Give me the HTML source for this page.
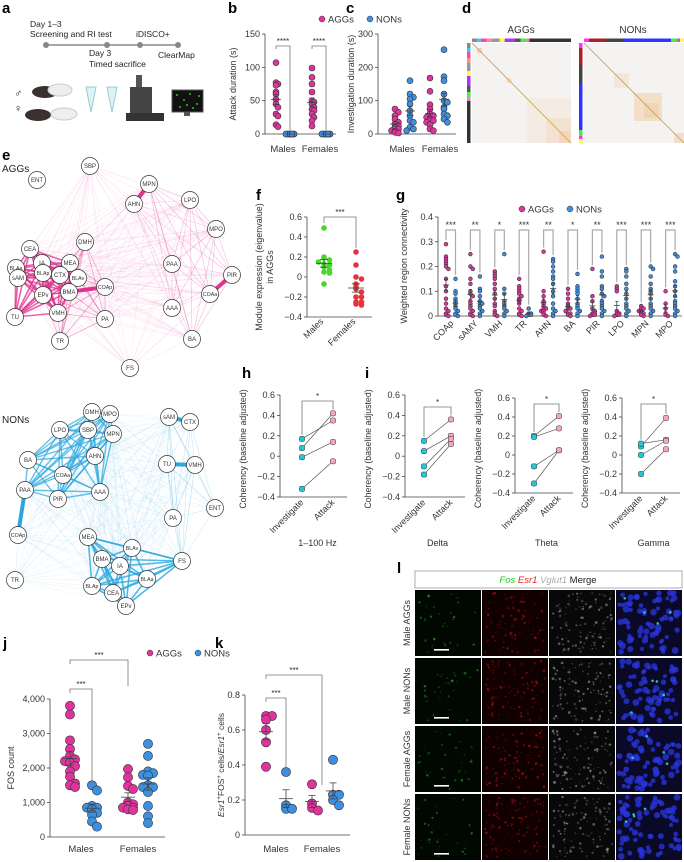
<!DOCTYPE html>
<html><head><meta charset="utf-8"><style>
html,body{margin:0;padding:0;background:#fff}
svg{display:block;font-family:"Liberation Sans",Arial,sans-serif}
.lbl{font-weight:bold;font-size:15px}
.t{font-size:9px;fill:#333}
.ax{stroke:#444;stroke-width:0.8;fill:none}
</style></head><body>
<svg id="fig" width="684" height="862" viewBox="0 0 684 862" xmlns="http://www.w3.org/2000/svg">
<g>
<text class="lbl" x="2" y="13">a</text><text class="lbl" x="228" y="13">b</text><text class="lbl" x="346" y="13">c</text><text class="lbl" x="462" y="13">d</text>
<text class="lbl" x="2" y="160">e</text><text class="lbl" x="256" y="200">f</text><text class="lbl" x="396" y="200">g</text>
<text class="lbl" x="242" y="378">h</text><text class="lbl" x="365" y="378">i</text><text class="lbl" x="3" y="648">j</text><text class="lbl" x="215" y="648">k</text><text class="lbl" x="397" y="573">l</text>
</g>
<!-- panel a -->
<g font-size="8.5" fill="#222">
<text x="30" y="27">Day 1–3</text><text x="30" y="37">Screening and RI test</text><text x="136" y="37">iDISCO+</text>
<line x1="46" y1="45" x2="178" y2="45" stroke="#888" stroke-width="1.5"/>
<circle cx="46" cy="45" r="3" fill="#888"/><circle cx="107" cy="45" r="3" fill="#888"/><circle cx="140" cy="45" r="3" fill="#888"/><circle cx="178" cy="45" r="3" fill="#888"/>
<text x="89" y="56">Day 3</text><text x="89" y="67">Timed sacrifice</text><text x="158" y="58">ClearMap</text>
<text x="14" y="97" font-size="11">♂</text><text x="14" y="112" font-size="11">♀</text>
<ellipse cx="45" cy="92" rx="13" ry="6" fill="#3a3030"/><ellipse cx="60" cy="90" rx="12" ry="6" fill="#eee" stroke="#ccc"/>
<ellipse cx="38" cy="115" rx="13" ry="6" fill="#3a3030"/><ellipse cx="64" cy="114" rx="13" ry="6" fill="#eee" stroke="#ccc"/>
<path d="M86 87 h10 l-5 25 z" fill="#dff2f8" stroke="#9cc"/><path d="M107 87 h10 l-5 25 z" fill="#dff2f8" stroke="#9cc"/>
<rect x="136" y="75" width="6" height="12" fill="#555"/><rect x="130" y="87" width="22" height="28" fill="#444"/><rect x="126" y="113" width="38" height="8" fill="#333"/>
<rect x="172" y="90" width="31" height="22" fill="#111" stroke="#555"/>
<g fill="#2f2">
<circle cx="177" cy="95" r="0.9"/><circle cx="184" cy="100" r="0.9"/><circle cx="190" cy="94" r="0.9"/><circle cx="197" cy="104" r="0.9"/><circle cx="180" cy="107" r="0.9"/><circle cx="193" cy="108" r="0.9"/><circle cx="199" cy="96" r="0.9"/><circle cx="187" cy="105" r="0.9"/></g>
<rect x="184" y="112" width="6" height="4" fill="#555"/>
</g>
<g id="net"></g>
<g id="charts"></g>
<!-- panel l -->
<g>
<rect x="415" y="571" width="267" height="17" fill="#fff" stroke="#999" stroke-width="0.8"/>
<text x="548" y="583" text-anchor="middle" font-size="9.5"><tspan fill="#2c2" font-style="italic">Fos</tspan> <tspan fill="#e22" font-style="italic">Esr1</tspan> <tspan fill="#aaa" font-style="italic">Vglut1</tspan> <tspan fill="#222">Merge</tspan></text>
<g id="imgs"></g>
</g>
</svg>
<script>
const NS="http://www.w3.org/2000/svg";
function el(tag,attrs,parent){const e=document.createElementNS(NS,tag);for(const k in attrs)e.setAttribute(k,attrs[k]);(parent||document.getElementById('charts')).appendChild(e);return e;}
function txt(s,x,y,attrs,parent){const e=el('text',Object.assign({x:x,y:y,'font-size':9,fill:'#333'},attrs||{}),parent);e.textContent=s;return e;}

// ---------------- data ----------------
const bMaleAGG=[107,77,75,73,63,60,52,45,40,30,27,14,11];
const bMaleNON=[0,0,0,0,0,0,0,0,0,0,0,0];
const bFemAGG=[99,85,75,63,50,48,45,40,37,35,30,25,20,12];
const bFemNON=[0,0,0,0,0,0,0,0,0,0,0,0];
const bTicks=[0,50,100,150];
const cMaleAGG=[75,65,55,45,35,30,25,20,15,10,8,5,3];
const cMaleNON=[160,120,110,105,90,70,55,40,35,20,15,10];
const cFemAGG=[168,128,88,75,60,55,50,45,40,35,28,15,10];
const cFemNON=[253,172,160,120,100,95,80,75,60,55,45,35];
const cTicks=[0,100,200,300];
const fMales=[0.49,0.2,0.19,0.17,0.15,0.13,0.12,0.1,0.07,0.05,0.04,-0.07];
const fFemales=[0.25,0.12,0.0,-0.02,-0.07,-0.1,-0.12,-0.15,-0.2,-0.2,-0.25,-0.25,-0.27,-0.28];
const fTicks=[-0.4,-0.2,0,0.2,0.4,0.6];
const gRegions=['COAp','sAMY','VMH','TR','AHN','BA','PIR','LPO','MPN','MPO'];
const gStars=['***','**','*','***','**','*','**','***','***','***'];
const gAGG=[
[0.29,0.24,0.23,0.22,0.21,0.2,0.19,0.15,0.12,0.1,0.07,0.05,0.03,0.02,0.01,0.005,0],
[0.25,0.2,0.19,0.15,0.13,0.1,0.09,0.08,0.06,0.05,0.04,0.03,0.02,0.01,0.005,0],
[0.18,0.17,0.16,0.15,0.13,0.11,0.09,0.07,0.05,0.04,0.02,0.01,0.005,0],
[0.15,0.12,0.11,0.1,0.09,0.08,0.07,0.06,0.05,0.03,0.02,0.01,0.005,0],
[0.26,0.1,0.08,0.06,0.05,0.04,0.03,0.03,0.02,0.02,0.01,0.005,0],
[0.11,0.09,0.07,0.05,0.04,0.03,0.03,0.02,0.01,0.01,0.005,0],
[0.19,0.08,0.06,0.03,0.02,0.01,0.01,0.005,0.005,0],
[0.12,0.11,0.1,0.02,0.01,0.01,0.005,0.005,0],
[0.04,0.03,0.03,0.02,0.02,0.01,0.01,0.005,0],
[0.1,0.05,0.03,0.01,0.005,0]];
const gNON=[
[0.15,0.1,0.09,0.07,0.06,0.05,0.04,0.03,0.02,0.01,0.005,0],
[0.16,0.11,0.1,0.08,0.06,0.05,0.05,0.04,0.03,0.02,0.01,0],
[0.25,0.11,0.09,0.06,0.05,0.04,0.03,0.02,0.01,0],
[0.03,0.01,0.01,0.005,0.005,0],
[0.23,0.22,0.2,0.18,0.16,0.15,0.13,0.1,0.08,0.05,0.03,0.02,0.01,0],
[0.17,0.12,0.11,0.1,0.09,0.07,0.05,0.04,0.03,0.02,0.01,0],
[0.24,0.18,0.16,0.12,0.11,0.09,0.08,0.06,0.05,0.04,0.03,0.02,0.01,0],
[0.19,0.18,0.16,0.13,0.11,0.09,0.07,0.05,0.04,0.03,0.02,0.01,0],
[0.2,0.19,0.16,0.13,0.11,0.1,0.09,0.07,0.05,0.04,0.03,0.02,0.01,0],
[0.25,0.24,0.2,0.18,0.14,0.12,0.1,0.08,0.06,0.05,0.04,0.03,0.02,0.01,0]];
const gTicks=[0,0.1,0.2,0.3,0.4];
const hPanels=['1–100 Hz','Delta','Theta','Gamma'];
const hInv=[[0.08,0.17,-0.01,-0.32],[0.15,0.05,-0.1,-0.18],[0.2,0.19,-0.12,-0.3],[0.09,0.12,0,-0.2]];
const hAtt=[[0.42,0.35,0.14,-0.05],[0.36,0.2,0.17,0.12],[0.41,0.28,0.05,0.05],[0.39,0.16,0.15,0.06]];
const hTicks=[-0.4,-0.2,0,0.2,0.4,0.6];
const jMaleAGG=[3800,3550,2800,2550,2350,2250,2200,2150,2050,1900,1750,1550,1500,1450];
const jMaleNON=[1500,1350,900,850,850,800,700,650,450,300];
const jFemAGG=[1970,1730,1480,1390,1000,950,900,850,850,800,780];
const jFemNON=[2700,2350,1900,1850,1800,1780,1500,1450,1450,1300,900,600,400];
const jTicks=[0,1000,2000,3000,4000];
const jTickLabels=['0','1,000','2,000','3,000','4,000'];
const kMaleAGG=[0.68,0.68,0.66,0.6,0.53,0.39];
const kMaleNON=[0.36,0.17,0.15,0.15];
const kFemAGG=[0.29,0.18,0.155,0.14];
const kFemNON=[0.43,0.23,0.23,0.2,0.17];
const kTicks=[0,0.2,0.4,0.6,0.8];

const PINK='#e0339e',BLUE='#3d8fe0';
function lin(d0,d1,r0,r1){return v=>r0+(v-d0)*(r1-r0)/(d1-d0);}
function mean(a){return a.reduce((s,v)=>s+v,0)/a.length;}
function sem(a){const m=mean(a);return Math.sqrt(a.reduce((s,v)=>s+(v-m)*(v-m),0)/(a.length-1))/Math.sqrt(a.length);}
function yAxis(g,x,y,ticks,labels,fs){
  el('line',{x1:x,y1:y(ticks[0]),x2:x,y2:y(ticks[ticks.length-1]),class:'ax'},g);
  ticks.forEach((t,i)=>{el('line',{x1:x-3,y1:y(t),x2:x,y2:y(t),class:'ax'},g);
    txt(labels?labels[i]:(''+t).replace('-','−'),x-5,y(t)+3,{'text-anchor':'end','font-size':fs||9},g);});
}
function swarm(g,vals,cx,y,r,fill,sp,name,W){
  const used={};const m=Math.max(1,Math.floor((W||sp*2)/sp));
  vals.forEach((v,i)=>{const py=y(v);const key=Math.round(py/(r*1.6));used[key]=(used[key]||0)+1;const k=(used[key]-1)%(2*m+1);
    const off=(k===0?0:(k%2?1:-1)*Math.ceil(k/2)*sp);
    const c=el('circle',{cx:cx+off,cy:py,r:r,fill:fill,stroke:'#333','stroke-width':0.6},g);
    
    });
}
function meanBar(g,vals,cx,y,w){const m=mean(vals),s=sem(vals);
  el('line',{x1:cx-w,y1:y(m),x2:cx+w,y2:y(m),stroke:'#444','stroke-width':0.8},g);
  el('line',{x1:cx,y1:y(m-s),x2:cx,y2:y(m+s),stroke:'#444','stroke-width':0.8},g);
  el('line',{x1:cx-w/2,y1:y(m-s),x2:cx+w/2,y2:y(m-s),stroke:'#444','stroke-width':0.8},g);
  el('line',{x1:cx-w/2,y1:y(m+s),x2:cx+w/2,y2:y(m+s),stroke:'#444','stroke-width':0.8},g);}
function bracket(g,x1,x2,yt,y1b,y2b,star,sw){
  el('path',{d:`M${x1} ${y1b}V${yt}H${x2}V${y2b}`,fill:'none',stroke:'#777','stroke-width':sw||0.8},g);
  txt(star,(x1+x2)/2,yt-2,{'text-anchor':'middle','font-size':8},g);}
function ylab(g,s,x,y,fs){const t=txt(s,x,y,{'text-anchor':'middle','font-size':fs||9,transform:`rotate(-90 ${x} ${y})`},g);return t;}
function legend(g,x,y){el('circle',{cx:x,cy:y,r:3,fill:PINK,stroke:'#333','stroke-width':0.5},g);txt('AGGs',x+6,y+3.5,{'font-size':9.5},g);
  el('circle',{cx:x+48,cy:y,r:3,fill:BLUE,stroke:'#333','stroke-width':0.5},g);txt('NONs',x+54,y+3.5,{'font-size':9.5},g);}

// ---- panel b
(function(){const g=el('g',{});
 const y=lin(0,150,134,34);yAxis(g,265,y,bTicks);
 el('line',{x1:265,y1:134,x2:336,y2:134,class:'ax'},g);
 [[276,bMaleAGG,PINK],[290,bMaleNON,BLUE],[312,bFemAGG,PINK],[326,bFemNON,BLUE]].forEach(([x,d,c])=>{swarm(g,d,x,y,3,c,2,c==PINK?'agg-dot':'non-dot',4);meanBar(g,d,x,y,5);});
 bracket(g,276,290,46,49,130,'****');bracket(g,312,326,46,49,130,'****');
 txt('Males',283,152,{'text-anchor':'middle','font-size':9.5},g);txt('Females',320,152,{'text-anchor':'middle','font-size':9.5},g);
 ylab(g,'Attack duration (s)',236,84);legend(g,322,19);})();
// ---- panel c
(function(){const g=el('g',{});
 const y=lin(0,300,134,34);yAxis(g,378,y,cTicks);
 el('line',{x1:378,y1:134,x2:456,y2:134,class:'ax'},g);
 [[395,cMaleAGG,PINK],[410,cMaleNON,BLUE],[430,cFemAGG,PINK],[444,cFemNON,BLUE]].forEach(([x,d,c])=>{swarm(g,d,x,y,3,c,3.4,c==PINK?'agg-dot':'non-dot',5);meanBar(g,d,x,y,5);});
 txt('Males',402,152,{'text-anchor':'middle','font-size':9.5},g);txt('Females',440,152,{'text-anchor':'middle','font-size':9.5},g);
 ylab(g,'Investigation duration (s)',354,84);})();
// ---- panel d heatmaps
(function(){const g=el('g',{});
 txt('AGGs',521,33,{'text-anchor':'middle','font-size':10},g);txt('NONs',633,33,{'text-anchor':'middle','font-size':10},g);
 function hm(x0,w,blocks,top,left){
  el('rect',{x:x0,y:43,width:w,height:100,fill:'#f5f3f1'},g);
  blocks.forEach(([a,b,o])=>el('rect',{x:x0+a*w,y:43+a*100,width:(b-a)*w,height:(b-a)*100,fill:'#f0b070','fill-opacity':o},g));
  el('line',{x1:x0,y1:43,x2:x0+w,y2:143,stroke:'#c9a040','stroke-width':0.8},g);
  let cx=x0;top.forEach(([c,f])=>{el('rect',{x:cx,y:38.5,width:f*w,height:3.5,fill:c},g);cx+=f*w;});
  let cy=43;left.forEach(([c,f])=>{el('rect',{x:x0-5,y:cy,width:3.5,height:f*100,fill:c},g);cy+=f*100;});}
 const topA=[['#888',.05],['#3cf',.04],['#f4a',.06],['#f88',.05],['#999',.08],['#ff3',.05],['#a3f',.1],['#555',.06],['#4e4',.06],['#f7c',.03],['#333',.42]];
 const topN=[['#f3f',.05],['#a22',.17],['#444',.18],['#33f',.47],['#4e4',.06],['#f3f',.03],['#ff3',.04]];
 hm(472,99,[[0.05,0.1,.5],[0.35,0.4,.3],[0.55,1,.1],[0.75,1,.15],[0.88,1,.2]],topA,topA);
 hm(584,100,[[0.3,0.45,.18],[0.5,0.78,.32],[0.6,0.75,.2],[0.9,1,.3]],topN,topN);})();

// ---- panel e networks
(function(){const g=document.getElementById('net');
 const A={ENT:[37,180],SBP:[90,166],MPN:[149,184],AHN:[134,204],LPO:[190,200],MPO:[216,229],DMH:[85,242],CEA:[30,249],IA:[42,263],MEA:[70,263],BLAa:[16,268],BLAp:[43,273],CTX:[60,275],BLAv:[78,278],sAM:[18,278],EPv:[43,295],BMA:[69,292],COAp:[105,287],TU:[15,317],VMH:[58,313],PA:[105,319],TR:[60,341],FS:[130,368],PAA:[172,264],AAA:[172,308],COAa:[210,294],PIR:[232,275],BA:[192,339]};
 const N={DMH:[92,412],MPO:[110,414],LPO:[60,430],SBP:[88,430],MPN:[113,434],AHN:[95,456],BA:[28,460],COAa:[63,475],PAA:[25,490],PIR:[58,499],AAA:[100,492],sAM:[169,417],CTX:[190,422],TU:[167,464],VMH:[195,465],ENT:[215,508],PA:[173,518],COAp:[18,535],MEA:[88,537],BLAv:[132,548],BMA:[102,559],IA:[120,566],FS:[182,561],TR:[15,580],BLAa:[147,579],BLAp:[92,586],CEA:[113,593],EPv:[126,606]};
 function draw(P,col,clusters,thick,label,ly){
  const ge=el('g',{},g),gn=el('g',{},g);const ks=Object.keys(P);
  for(let i=0;i<ks.length;i++)for(let j=i+1;j<ks.length;j++){if((i*7+j*3)%3===0)continue;
    const a=P[ks[i]],b=P[ks[j]];el('line',{x1:a[0],y1:a[1],x2:b[0],y2:b[1],stroke:col,'stroke-opacity':0.1,'stroke-width':0.6},ge);}
  clusters.forEach(([cl,w,o])=>{for(let i=0;i<cl.length;i++)for(let j=i+1;j<cl.length;j++){const a=P[cl[i]],b=P[cl[j]];
    el('line',{x1:a[0],y1:a[1],x2:b[0],y2:b[1],stroke:col,'stroke-opacity':o,'stroke-width':w},ge);}});
  thick.forEach(([p,q])=>{const a=P[p],b=P[q];el('line',{x1:a[0],y1:a[1],x2:b[0],y2:b[1],stroke:col,'stroke-width':4},ge);});
  ks.forEach(k=>{const n=el('g',{},gn);
   el('circle',{cx:P[k][0],cy:P[k][1],r:8.5,fill:'#fff',stroke:'#333','stroke-width':0.7},n);
   txt(k,P[k][0],P[k][1]+2.2,{'text-anchor':'middle','font-size':k.length>3?5.3:6},n);});
  txt(label,2,ly,{'font-size':10,fill:'#222'},g);}
 draw(A,'#e0338f',[[['CEA','IA','MEA','BLAa','BLAp','CTX','BLAv','sAM','EPv','BMA','TU','VMH'],1.6,0.75],[['DMH','MEA','BLAv','COAp','BMA','PA','TR','VMH','EPv'],0.8,0.4],[['AHN','MPN','LPO','MPO','PAA','AAA','COAa','BA','PIR'],0.6,0.25]],[['MPN','AHN'],['PIR','COAa'],['BMA','COAp']],'AGGs',172);
 draw(N,'#2aa7de',[[['DMH','MPO','LPO','SBP','MPN','AHN','BA','COAa','PAA','PIR','AAA'],1.4,0.7],[['MEA','BLAv','BMA','IA','BLAa','BLAp','CEA','EPv','FS'],1.6,0.8],[['PA','ENT','FS','TU','VMH','sAM','CTX'],0.5,0.3]],[['TU','VMH'],['sAM','CTX'],['PAA','COAp']],'NONs',423);})();

// ---- panel f
(function(){const g=el('g',{});
 const y=lin(-0.4,0.6,317,217);yAxis(g,307,y,fTicks);
 el('line',{x1:307,y1:317,x2:372,y2:317,class:'ax'},g);
 swarm(g,fMales,324,y,2.8,'#46d62c',5.5,'male-dot',11);swarm(g,fFemales,356,y,2.8,'#e8323c',5.5,'female-dot',11);
 g.querySelectorAll('circle').forEach(c=>c.setAttribute('stroke','none'));
 meanBar(g,fMales,324,y,8);meanBar(g,fFemales,356,y,8);
 bracket(g,324,356,217,223,248,'***');
 txt('Males',324,322,{'text-anchor':'end','font-size':9,transform:'rotate(-45 324 322)'},g);
 txt('Females',356,322,{'text-anchor':'end','font-size':9,transform:'rotate(-45 356 322)'},g);
 ylab(g,'Module expression (eigenvalue)',262,267);ylab(g,'in AGGs',273,267);})();
// ---- panel g
(function(){const g=el('g',{});
 const y=lin(0,0.4,316,217);yAxis(g,438,y,gTicks);
 el('line',{x1:438,y1:316,x2:682,y2:316,class:'ax'},g);
 gRegions.forEach((r,i)=>{const px=446+i*24.4,bx=px+9.5;
  swarm(g,gAGG[i],px,y,1.9,PINK,2.4,'agg-dot',3);swarm(g,gNON[i],bx,y,1.9,BLUE,2.4,'non-dot',3);
  meanBar(g,gAGG[i],px,y,3);meanBar(g,gNON[i],bx,y,3);
  bracket(g,px,bx,230,Math.min(y(Math.max(...gAGG[i]))-4,305),Math.min(y(Math.max(...gNON[i]))-4,305),gStars[i],1.2);
  g.lastChild.setAttribute('font-size',9);
  txt(r,px+8,324,{'text-anchor':'end','font-size':9,transform:`rotate(-45 ${px+8} 324)`},g);});
 g.querySelectorAll('path').forEach(p=>p.setAttribute('stroke','#aaa'));
 legend(g,522,209);ylab(g,'Weighted region connectivity',407,266);})();
// ---- panels h/i
(function(){const axX=[280,405,515,622],invX=[302,424,534,641],attX=[333,451,559,666],top=[395,395,398,398],bot=[497,497,493,493];
 hPanels.forEach((nm,p)=>{const g=el('g',{});
  const y=lin(-0.4,0.6,bot[p],top[p]);yAxis(g,axX[p],y,hTicks);
  el('line',{x1:axX[p],y1:bot[p],x2:attX[p]+14,y2:bot[p],class:'ax'},g);
  hInv[p].forEach((v,i)=>el('line',{x1:invX[p],y1:y(v),x2:attX[p],y2:y(hAtt[p][i]),stroke:'#555','stroke-width':0.7},g));
  hInv[p].forEach(v=>{const c=el('rect',{x:invX[p]-2.6,y:y(v)-2.6,width:5.2,height:5.2,rx:1.5,fill:'#22c8d8',stroke:'#333','stroke-width':0.5},g);});
  hAtt[p].forEach(v=>{const c=el('rect',{x:attX[p]-2.6,y:y(v)-2.6,width:5.2,height:5.2,rx:1.5,fill:'#f2a6c4',stroke:'#333','stroke-width':0.5},g);});
  const bt=top[p]+(p===1?12:6);bracket(g,invX[p],attX[p],bt,y(Math.max(...hInv[p]))-4,y(Math.max(...hAtt[p]))-4,'*');
  txt('Investigate',invX[p]+2,bot[p]+6,{'text-anchor':'end','font-size':9,transform:`rotate(-45 ${invX[p]+2} ${bot[p]+6})`},g);
  txt('Attack',attX[p]+2,bot[p]+6,{'text-anchor':'end','font-size':9,transform:`rotate(-45 ${attX[p]+2} ${bot[p]+6})`},g);
  txt(nm,(invX[p]+attX[p])/2,546,{'text-anchor':'middle','font-size':9},g);
  ylab(g,'Coherency (baseline adjusted)',axX[p]-34,(top[p]+bot[p])/2+3,8.8);});})();
// ---- panel j
(function(){const g=el('g',{});
 const y=lin(0,4000,837,699);yAxis(g,50,y,jTicks,jTickLabels);
 el('line',{x1:50,y1:837,x2:165,y2:837,class:'ax'},g);
 [[70,jMaleAGG,PINK],[92,jMaleNON,BLUE],[128,jFemAGG,PINK],[148,jFemNON,BLUE]].forEach(([x,d,c])=>{swarm(g,d,x,y,4.6,c,5,c==PINK?'agg-dot':'non-dot',8);meanBar(g,d,x,y,7);});
 bracket(g,70,92,689,693,785,'***');bracket(g,70,128,660,664,686,'***');
 txt('Males',81,852,{'text-anchor':'middle','font-size':9.5},g);txt('Females',138,852,{'text-anchor':'middle','font-size':9.5},g);
 ylab(g,'FOS count',14,768);legend(g,150,653);})();
// ---- panel k
(function(){const g=el('g',{});
 const y=lin(0,0.8,835,695);yAxis(g,245,y,kTicks);
 el('line',{x1:245,y1:835,x2:350,y2:835,class:'ax'},g);
 [[266,kMaleAGG,PINK],[286,kMaleNON,BLUE],[312,kFemAGG,PINK],[333,kFemNON,BLUE]].forEach(([x,d,c])=>{swarm(g,d,x,y,4.6,c,6,c==PINK?'agg-dot':'non-dot',8);meanBar(g,d,x,y,7);});
 bracket(g,266,286,698,702,770,'***');bracket(g,266,322,675,679,785,'***');
 txt('Males',276,852,{'text-anchor':'middle','font-size':9.5},g);txt('Females',322,852,{'text-anchor':'middle','font-size':9.5},g);
 const t=txt('',224,765,{'text-anchor':'middle','font-size':8.5,transform:'rotate(-90 224 765)'},g);
 t.innerHTML='<tspan font-style="italic">Esr1</tspan><tspan baseline-shift="super" font-size="6">+</tspan>FOS<tspan baseline-shift="super" font-size="6">+</tspan> cells/<tspan font-style="italic">Esr1</tspan><tspan baseline-shift="super" font-size="6">+</tspan> cells';})();

// ---- panel l images
(function(){const g=document.getElementById('imgs');const rows=['Male AGGs','Male NONs','Female AGGs','Female NONs'];
 const cols=[['#010801','#2b2'],['#100000','#b11'],['#080808','#aaa'],['#0a0a28','#2a35e0']];
 let s=7;function rnd(){s=(s*9301+49297)%233280;return s/233280;}
 rows.forEach((r,ri)=>{const y0=590+ri*68;
  txt(r,410,y0+33,{'text-anchor':'middle','font-size':9,transform:`rotate(-90 410 ${y0+33})`},g);
  cols.forEach((c,ci)=>{const x0=415+ci*67;const cell=el('g',{},g);
   el('rect',{x:x0,y:y0,width:66,height:66,fill:c[0]},cell);
   const n=ci===3?70:(ci===0?30:110);
   for(let k=0;k<n;k++){el('circle',{cx:x0+3+rnd()*60,cy:y0+3+rnd()*60,r:ci===3?2+rnd()*1.4:0.5+rnd()*0.9,fill:c[1],'fill-opacity':ci===3?0.75:0.2+rnd()*0.45},cell);}
   if(ci===3)for(let k=0;k<4;k++)el('circle',{cx:x0+5+rnd()*56,cy:y0+5+rnd()*56,r:1.3,fill:'#3ec','fill-opacity':0.8},cell);
   if(ci===0)el('rect',{x:x0+19,y:y0+59,width:15,height:1.6,fill:'#fff'},cell);});});})();
</script>
</body></html>
